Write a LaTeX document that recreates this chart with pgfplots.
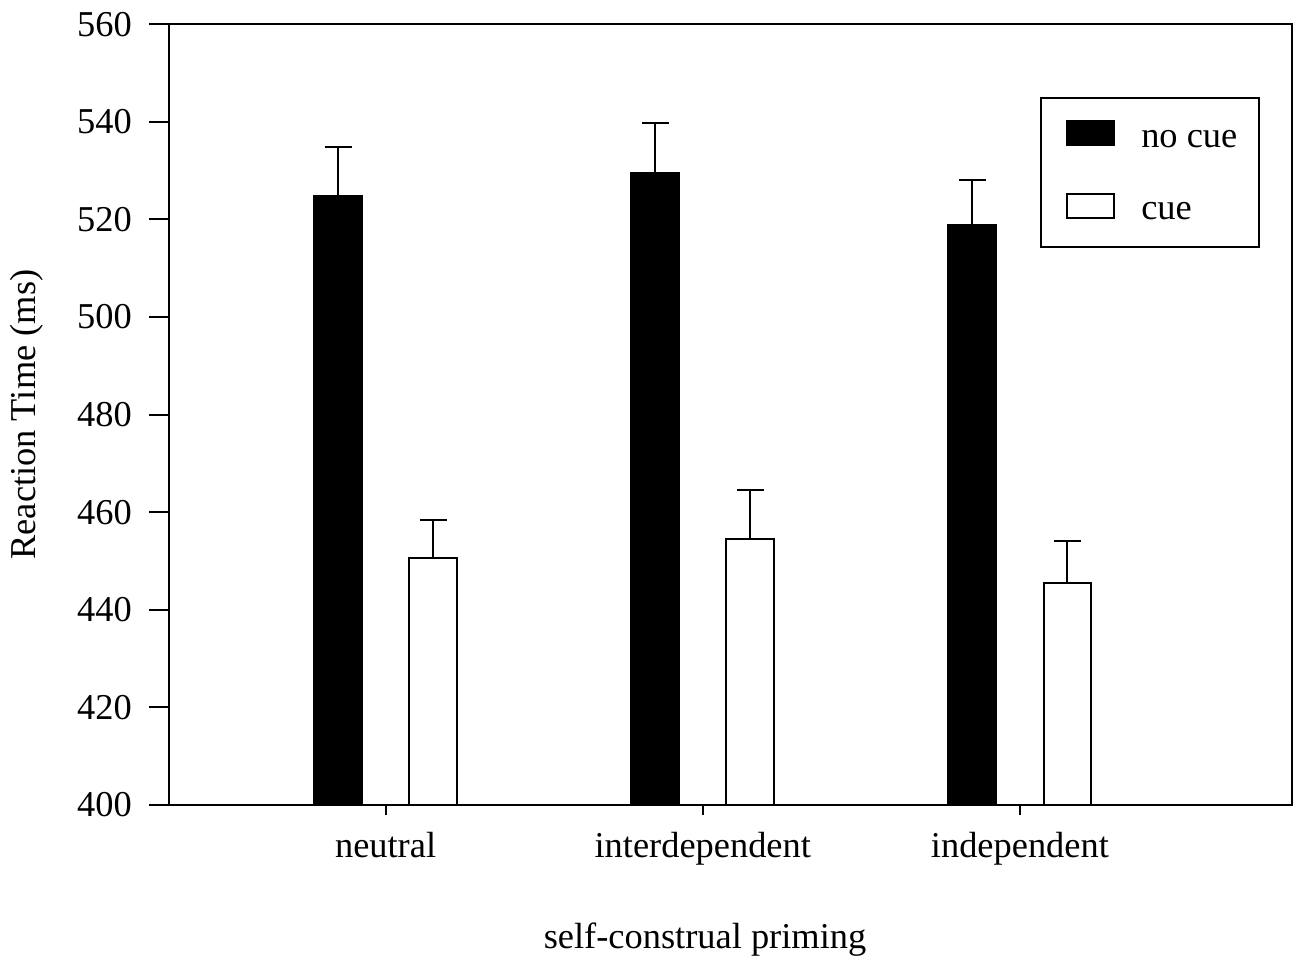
\documentclass[border=0pt]{standalone}
\usepackage{fontspec}
\setmainfont{Liberation Serif}
\usepackage{pgfplots}
\usepackage{pgfplotstable}
\pgfplotsset{compat=1.18}
\pgfplotstableread{
x y err
0 524.8 10.0
1 529.5 10.2
2 518.8 9.3
}\nocue
\pgfplotstableread{
x y err
0 450.6 7.8
1 454.5 10.1
2 445.5 8.6
}\cue
\begin{document}
\fontsize{18.2}{21.8}\selectfont
\begin{tikzpicture}
\begin{axis}[
  at={(0,0)}, anchor=south west,
  scale only axis,
  width=561.2pt, height=390.35pt,
  xmin=-0.682, xmax=2.857,
  ymin=400, ymax=560,
  ytick={400,420,...,560},
  xtick={0,1,2},
  xticklabels={neutral,interdependent,independent},
  tick align=outside,
  xtick pos=left, ytick pos=left,
  major tick length=10pt,
  xtick style={/pgfplots/major tick length=5pt},
  tick style={black, line width=1pt},
  axis line style={line width=1pt},
  /pgf/number format/assume math mode=true,
  yticklabel style={xshift=-2.5pt},
  xticklabel style={yshift=2.5pt},
  ybar,
  bar width=0.151,
  xlabel={self-construal priming},
  ylabel={Reaction Time (ms)},
  xlabel style={at={(axis description cs:0.4773,-0.1832)}, anchor=base},
  ylabel style={at={(axis description cs:-0.1526,0.5)}, anchor=north, rotate=0},
  legend style={at={(axis description cs:0.97176,0.90649)}, anchor=north east,
    draw=black, line width=1pt, inner xsep=10.85pt, inner ysep=11pt,
    nodes={inner sep=0pt}, row sep=19.95pt,
    /tikz/every odd column/.append style={column sep=13.2pt}},
  legend cell align=left,
  legend image code/.code={\path (0pt,0pt); \draw[#1, line width=1pt] (2pt,-2pt) rectangle (25.3pt,10pt);},
]
\addplot[fill=black, draw=black, line width=1pt, bar shift=-0.15,
  error bars/.cd, y dir=plus, y explicit,
  error bar style={line width=1pt, black},
  error mark options={rotate=90, mark size=6.75pt, line width=1pt, black}]
  table[x=x, y=y, y error=err] {\nocue};
\addlegendentry{no cue}
\addplot[fill=white, draw=black, line width=1pt, bar shift=0.15,
  error bars/.cd, y dir=plus, y explicit,
  error bar style={line width=1pt, black},
  error mark options={rotate=90, mark size=6.75pt, line width=1pt, black}]
  table[x=x, y=y, y error=err] {\cue};
\addlegendentry{cue}
\end{axis}
\pgfresetboundingbox
\path[use as bounding box] (-84.65pt,-79.5pt) rectangle (565.35pt,402.5pt);
\end{tikzpicture}
\end{document}
